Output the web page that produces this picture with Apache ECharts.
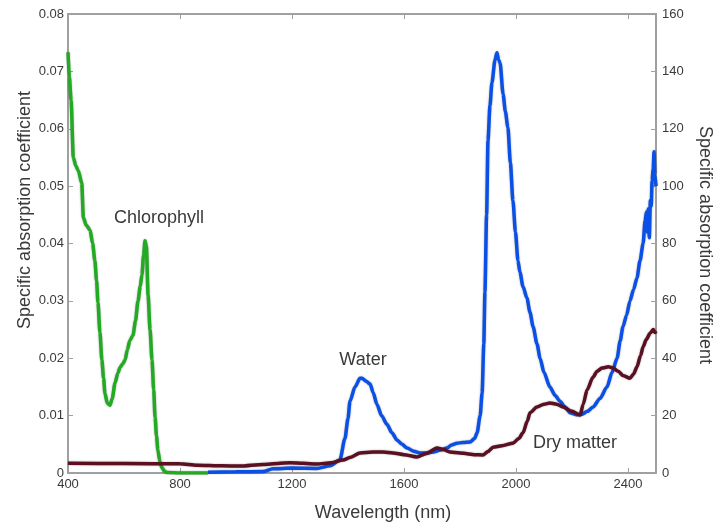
<!DOCTYPE html>
<html>
<head>
<meta charset="utf-8">
<script src="https://cdn.jsdelivr.net/npm/echarts@6/dist/echarts.min.js"></script>
<style>
  html, body { margin: 0; padding: 0; background: #fff; }
  #chart { width: 714px; height: 525px; }
</style>
</head>
<body>
<div id="chart"></div>
<script>
// chlorophyll, left axis
var chlWl = [400, 405, 411, 419, 428, 437, 449, 455, 465, 479, 488, 496, 502, 507, 514, 521, 527, 532, 540, 550,
    558, 568, 578, 586, 595, 604, 612, 621, 632, 641, 650, 658, 664, 670, 675, 680, 686, 693, 700, 706,
    711, 716, 721, 728, 736, 745, 752, 800, 900];
var chlVal = [0.0733, 0.069, 0.0649, 0.0550, 0.0535, 0.0527, 0.0505, 0.0445, 0.0432, 0.0423, 0.0400, 0.0370, 0.0335, 0.0297, 0.0245, 0.0197, 0.0165, 0.0139, 0.0122, 0.0118,
    0.0130, 0.0157, 0.0174, 0.0184, 0.0190, 0.0197, 0.0215, 0.0231, 0.0240, 0.0265, 0.0300, 0.0325, 0.0345, 0.0380, 0.0405, 0.0395, 0.0310, 0.0250, 0.0197, 0.0145,
    0.0097, 0.0065, 0.0040, 0.0020, 0.0009, 0.0003, 0.0001, 0, 0];

// water, right axis
var waterWl = [900, 1000, 1097, 1132, 1200, 1289, 1336, 1371, 1389, 1400, 1407, 1425, 1443, 1450, 1465, 1479, 1490, 1503, 1520, 1539,
    1557, 1575, 1593, 1611, 1635, 1657, 1680, 1704, 1730, 1754, 1770, 1789, 1810, 1836, 1852, 1861, 1872, 1879, 1885, 1889,
    1895, 1900, 1907, 1914, 1925, 1932, 1938, 1943, 1954, 1962, 1971, 1980, 1989, 1998, 2007, 2014, 2025, 2039, 2050, 2061,
    2075, 2086, 2100, 2121, 2140, 2157, 2175, 2193, 2215, 2236, 2255, 2275, 2300, 2325, 2343, 2361, 2372, 2382, 2395, 2407,
    2420, 2432, 2443, 2454, 2461, 2466, 2469, 2472, 2476, 2480, 2483, 2486, 2490, 2493, 2496, 2500];
var waterVal = [0.3, 0.4, 0.5, 1.5, 1.7, 1.6, 2.5, 4.5, 12, 19, 25, 30, 33, 33, 32, 31, 28, 24, 20, 17,
    14, 11.5, 10, 8.7, 7.6, 7, 7, 7.3, 8, 8.7, 9.8, 10.4, 10.6, 10.8, 12, 14, 20, 28, 45, 63,
    90, 116, 128, 136, 144, 146.5, 144, 143, 132, 126, 120.5, 108, 95, 84, 74, 70, 65, 61, 56, 51,
    45, 40, 35, 30, 27, 25, 23, 21, 20.3, 20.5, 21.5, 23, 26, 30, 35, 40, 46, 51, 55, 60,
    64, 68, 74, 80, 88, 91, 84, 92, 82, 95, 93, 102, 106, 112, 104, 100];

// dry matter, right axis
var dryWl = [400, 600, 800, 861, 950, 1014, 1097, 1150, 1193, 1240, 1289, 1340, 1382, 1410, 1443, 1489, 1525, 1561, 1600, 1646,
    1680, 1718, 1740, 1764, 1800, 1825, 1850, 1882, 1900, 1918, 1950, 1989, 2010, 2025, 2040, 2050, 2075, 2100, 2121, 2145,
    2168, 2200, 2229, 2240, 2254, 2275, 2290, 2307, 2330, 2346, 2365, 2382, 2407, 2420, 2432, 2445, 2454, 2465, 2479, 2490,
    2496, 2500];
var dryVal = [3.4, 3.3, 3.2, 2.7, 2.5, 2.4, 3.0, 3.3, 3.6, 3.4, 3.1, 3.6, 4.5, 5.5, 7, 7.3, 7.3, 7, 6.4, 5.6,
    6.8, 8.7, 8.2, 7.3, 7, 6.7, 6.4, 6.3, 7.5, 9, 9.5, 10.4, 12, 14, 18, 21, 23, 24, 24.4, 24,
    23, 21.5, 20.2, 24, 29, 33.4, 35.5, 36.6, 37, 36.6, 35.5, 34, 33, 34.5, 37, 41, 44, 46.5, 48.7, 50,
    49, 49.5];

var xTicks = [400, 800, 1200, 1600, 2000, 2400];

function pairs(xs, ys) {
    var res = [];
    for (var i = 0; i < xs.length; i++) {
        res.push([xs[i], ys[i]]);
    }
    return res;
}

var font = "'Liberation Sans', Arial, sans-serif";
var frameColor = "#a0a0a0";
var textColor = "#3a3a3a";

function frameAxis(extra) {
    var base = {
        axisLine: { show: true, onZero: false, lineStyle: { color: frameColor, width: 2 } },
        axisTick: { show: true, inside: true, length: 5, lineStyle: { color: frameColor, width: 1 } },
        axisLabel: { show: false },
        splitLine: { show: false }
    };
    return Object.assign(base, extra);
}

function line(name, data, axis, color) {
    return {
        name: name,
        type: 'line',
        yAxisIndex: axis,
        data: data,
        showSymbol: false,
        symbol: 'none',
        smooth: 0.25,
        smoothMonotone: 'x',
        lineStyle: { color: color, width: 3.5, shadowColor: 'rgba(0,0,0,0.35)', shadowBlur: 2 },
        z: 3
    };
}

var chart = echarts.init(document.getElementById('chart'));
chart.setOption({
    animation: false,
    backgroundColor: '#fff',
    textStyle: { fontFamily: font },
    grid: { left: 68, right: 58, top: 14, bottom: 52 },
    xAxis: [
        frameAxis({
            type: 'value', position: 'bottom', min: 400, max: 2500, interval: 400,
            axisLabel: {
                show: true, color: textColor, fontSize: 13, fontFamily: font, margin: 5,
                showMaxLabel: false,
                formatter: function (v) { return xTicks.indexOf(v) >= 0 ? String(v) : ''; }
            }
        }),
        frameAxis({ type: 'value', position: 'top', min: 400, max: 2500, interval: 400 })
    ],
    yAxis: [
        frameAxis({
            type: 'value', position: 'left', min: 0, max: 0.08, interval: 0.01,
            axisLabel: {
                show: true, color: textColor, fontSize: 13, fontFamily: font, margin: 4,
                formatter: function (v) { return v === 0 ? '0' : v.toFixed(2); }
            }
        }),
        frameAxis({
            type: 'value', position: 'right', min: 0, max: 160, interval: 20,
            axisLabel: { show: true, color: textColor, fontSize: 13, fontFamily: font, margin: 6 }
        })
    ],
    series: [
        line('Water', pairs(waterWl, waterVal), 1, '#0a50e6'),
        line('Chlorophyll', pairs(chlWl, chlVal), 0, '#22aa22'),
        line('Dry matter', pairs(dryWl, dryVal), 1, '#5a1020')
    ],
    graphic: [
        { type: 'text', x: 383, y: 513, style: { text: 'Wavelength (nm)', fill: textColor, font: '18px ' + font, textAlign: 'center', textVerticalAlign: 'middle' } },
        { type: 'text', x: 25, y: 210, rotation: Math.PI / 2, style: { text: 'Specific absorption coefficient', fill: textColor, font: '18px ' + font, textAlign: 'center', textVerticalAlign: 'middle' } },
        { type: 'text', x: 705, y: 245, rotation: -Math.PI / 2, style: { text: 'Specific absorption coefficient', fill: textColor, font: '18px ' + font, textAlign: 'center', textVerticalAlign: 'middle' } },
        { type: 'text', x: 159, y: 218, style: { text: 'Chlorophyll', fill: textColor, font: '18px ' + font, textAlign: 'center', textVerticalAlign: 'middle' } },
        { type: 'text', x: 363, y: 360, style: { text: 'Water', fill: textColor, font: '18px ' + font, textAlign: 'center', textVerticalAlign: 'middle' } },
        { type: 'text', x: 575, y: 443, style: { text: 'Dry matter', fill: textColor, font: '18px ' + font, textAlign: 'center', textVerticalAlign: 'middle' } }
    ]
});
</script>
</body>
</html>
